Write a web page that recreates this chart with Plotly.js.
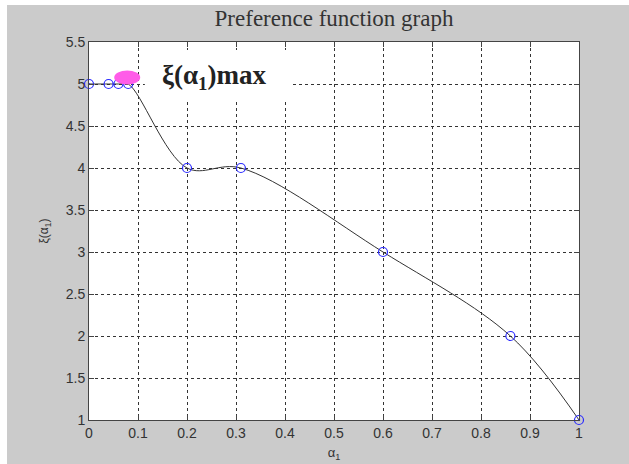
<!DOCTYPE html>
<html>
<head>
<meta charset="utf-8">
<script src="https://cdn.plot.ly/plotly-3.0.1.min.js"></script>
<style>
html,body{margin:0;padding:0;background:#ffffff;width:629px;height:464px;overflow:hidden;}
#chart{position:absolute;left:7px;top:5px;width:622px;height:459px;}
</style>
</head>
<body>
<div id="chart"></div>
<script>
// Data
const alphaPts = [0, 0.04, 0.06, 0.08, 0.2, 0.31, 0.6, 0.86, 1];
const xiPts    = [5, 5, 5, 5, 4, 4, 3, 2, 1];
const maxAlpha = [0.078];
const maxXi    = [5.077];
const xTicks = [0, 0.1, 0.2, 0.3, 0.4, 0.5, 0.6, 0.7, 0.8, 0.9, 1];
const xTickText = ['0', '0.1', '0.2', '0.3', '0.4', '0.5', '0.6', '0.7', '0.8', '0.9', '1'];
const yTicks = [1, 1.5, 2, 2.5, 3, 3.5, 4, 4.5, 5, 5.5];
const yTickText = ['1', '1.5', '2', '2.5', '3', '3.5', '4', '4.5', '5', '5.5'];

const last = alphaPts.length - 1;

const curve = {
  x: alphaPts, y: xiPts, type: 'scatter', mode: 'lines',
  line: {color: '#333333', width: 1, shape: 'spline', smoothing: 1},
  hoverinfo: 'skip', showlegend: false
};
const pts = {
  x: alphaPts, y: xiPts, type: 'scatter', mode: 'markers',
  marker: {
    symbol: alphaPts.map((a, i) => (i === 0 || i === last) ? 'circle-open-dot' : 'circle-open'),
    size: 9, color: '#2a2aff', line: {color: '#2a2aff', width: 1.2}
  },
  cliponaxis: false, showlegend: false
};

const gridStyle = {gridcolor: '#333333', griddash: '3px,3px', gridwidth: 1};

const layout = {
  width: 622, height: 459,
  margin: {l: 82, r: 50, t: 37, b: 44},
  paper_bgcolor: '#cbcbcb', plot_bgcolor: '#ffffff',
  showlegend: false,
  title: {
    text: 'Preference function graph',
    font: {family: 'Liberation Serif, Times New Roman, serif', size: 23, color: '#333333'},
    x: 0.5, xref: 'paper', xanchor: 'center', y: 0.972, yref: 'container', yanchor: 'middle',
    automargin: false
  },
  xaxis: Object.assign({
    range: [0, 1], tickvals: xTicks, ticktext: xTickText,
    showline: true, linecolor: '#444444', linewidth: 1, mirror: 'ticks',
    ticks: 'inside', ticklen: 5, tickcolor: '#444444',
    zeroline: false, showgrid: true,
    tickfont: {family: 'Liberation Sans, Arial, sans-serif', size: 14, color: '#333333'},
    title: {text: 'α<sub>1</sub>', font: {family: 'Liberation Sans, Arial, sans-serif', size: 13, color: '#333333'}, standoff: 8},
    fixedrange: true
  }, gridStyle),
  yaxis: Object.assign({
    range: [1, 5.5], tickvals: yTicks, ticktext: yTickText,
    showline: true, linecolor: '#444444', linewidth: 1, mirror: 'ticks',
    ticks: 'inside', ticklen: 5, tickcolor: '#444444',
    zeroline: false, showgrid: true,
    tickfont: {family: 'Liberation Sans, Arial, sans-serif', size: 14, color: '#333333'},
    title: {text: 'ξ(α<sub>1</sub>)', font: {family: 'Liberation Sans, Arial, sans-serif', size: 12, color: '#333333'}, standoff: 14},
    fixedrange: true
  }, gridStyle),
  shapes: [
    {type: 'rect', layer: 'between', xref: 'x', yref: 'y',
     x0: 0.114, x1: 0.414, y0: 4.81, y1: 5.405,
     fillcolor: '#ffffff', line: {width: 0}},
    {type: 'circle', layer: 'above', xref: 'x', yref: 'y',
     xsizemode: 'pixel', ysizemode: 'pixel',
     xanchor: maxAlpha[0], yanchor: maxXi[0],
     x0: -13, x1: 13, y0: -7, y1: 7,
     fillcolor: '#ff5ce8', line: {width: 0}}
  ],
  annotations: [
    {text: '<b>ξ(α<sub>1</sub>)max</b>', xref: 'x', yref: 'y',
     x: 0.145, y: 5.08, xanchor: 'left', yanchor: 'middle', showarrow: false,
     font: {family: 'Liberation Serif, Times New Roman, serif', size: 27, color: '#222222'}}
  ]
};

Plotly.newPlot('chart', [curve, pts], layout, {displayModeBar: false, staticPlot: true});
</script>
</body>
</html>
